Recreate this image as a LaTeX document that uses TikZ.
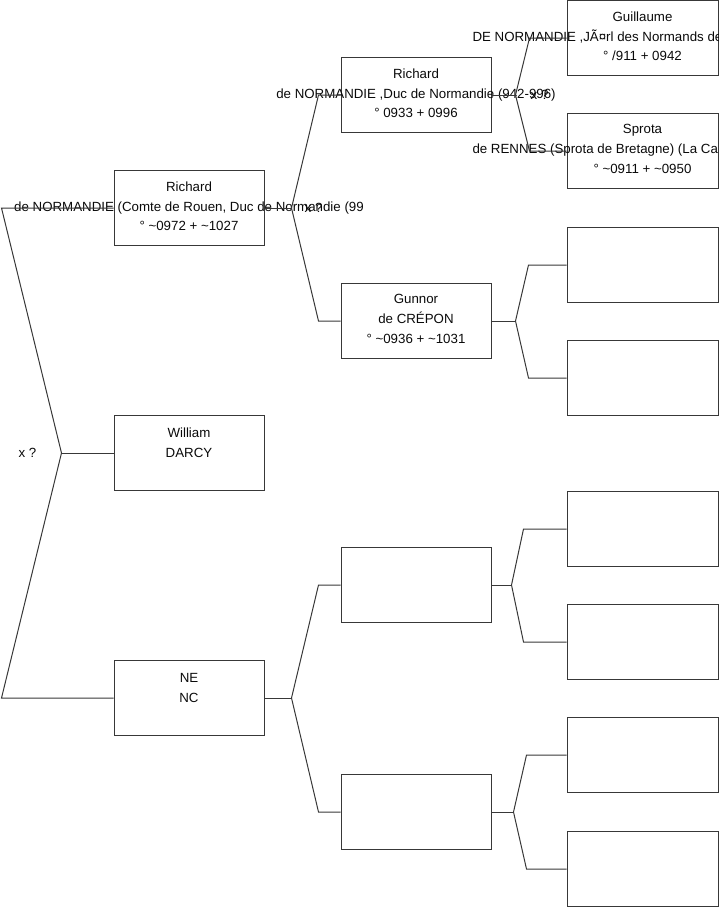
\documentclass[tikz,border=0pt]{standalone}
\usepackage{fontspec}
\setmainfont{Liberation Sans}
\usetikzlibrary{positioning}
\definecolor{frame}{HTML}{383838}
\definecolor{ink}{HTML}{0A0A0A}

\begin{document}
\begin{tikzpicture}[x=1pt,y=-1pt,
  person/.style={draw=frame,line width=1pt,minimum width=150pt,
                 minimum height=75pt,inner sep=0pt},
  elder/.style={person,minimum width=151pt},
  names/.style={font=\fontsize{13.3}{19.8}\selectfont,color=ink,align=center,inner sep=0pt},
  link/.style={draw=frame,line width=1pt},
  union/.style={font=\fontsize{13.3}{15}\selectfont,color=ink,inner sep=0pt}
]
\useasboundingbox (0,0) rectangle (719,908);

% generation 1
\node[person] (richard) at (189,208) {};
\node[person] (william) at (189,453) {};
\node[person] (ne) at (189,698) {};

% generation 2
\node[person] (richardsr) at (416,95) {};
\node[person] (gunnor) at (416,321) {};
\node[person] (nedad) at (416,585) {};
\node[person] (nemum) at (416,812) {};

% generation 3
\node[elder] (guillaume) at (642.5,38) {};
\node[elder] (sprota) at (642.5,151) {};
\node[elder] (gunnordad) at (642.5,265) {};
\node[elder] (gunnormum) at (642.5,378) {};
\node[elder] (nedaddad) at (642.5,529) {};
\node[elder] (nedadmum) at (642.5,642) {};
\node[elder] (nemumdad) at (642.5,755) {};
\node[elder] (nemummum) at (642.5,869) {};

% names
\node[names,below=11.5pt of richard.north] (richard-t)
  {Richard\\de NORMANDIE (Comte de Rouen, Duc de Normandie (99\\° \textasciitilde0972 + \textasciitilde1027};
\node[names,below=13pt of william.north] (william-t) {William\\DARCY};
\node[names,below=13pt of ne.north] (ne-t) {NE\\NC};
\node[names,below=11.5pt of richardsr.north] (richardsr-t)
  {Richard\\de NORMANDIE ,Duc de Normandie (942-996)\\° 0933 + 0996};
\node[names,below=11.5pt of gunnor.north] (gunnor-t)
  {Gunnor\\de CRÉPON\\° \textasciitilde0936 + \textasciitilde1031};
\node[names,below=11.5pt of guillaume.north] (guillaume-t)
  {Guillaume\\\makebox[340pt][l]{DE NORMANDIE ,JÃ¤rl des Normands de}\\° /911 + 0942};
\node[names,below=11.5pt of sprota.north] (sprota-t)
  {Sprota\\\makebox[340pt][l]{de RENNES (Sprota de Bretagne) (La Ca}\\° \textasciitilde0911 + \textasciitilde0950};

% forks
\coordinate (f0) at ([xshift=-52pt]william.west);
\draw[link] (william.west) -- (f0);
\draw[link] (richard.west) -- ([xshift=-112pt]richard.west) -- (f0)
  -- ([xshift=-112pt]ne.west) -- (ne.west);
\node[union,left=25pt of f0] (x0) {x ?};

\coordinate (f1) at ([xshift=27pt]richard.east);
\draw[link] (richard.east) -- (f1);
\draw[link] (richardsr.west) -- ([xshift=-22pt]richardsr.west) -- (f1)
  -- ([xshift=-22pt]gunnor.west) -- (gunnor.west);
\node[union,right=13pt of f1] (x1) {x ?};

\coordinate (f2) at ([xshift=27pt]ne.east);
\draw[link] (ne.east) -- (f2);
\draw[link] (nedad.west) -- ([xshift=-22pt]nedad.west) -- (f2)
  -- ([xshift=-22pt]nemum.west) -- (nemum.west);

\coordinate (f3) at ([xshift=24pt]richardsr.east);
\draw[link] (richardsr.east) -- (f3);
\draw[link] (guillaume.west) -- ([xshift=-37pt]guillaume.west) -- (f3)
  -- ([xshift=-37pt]sprota.west) -- (sprota.west);
\node[union,right=15pt of f3] (x3) {x ?};

\coordinate (f4) at ([xshift=24pt]gunnor.east);
\draw[link] (gunnor.east) -- (f4);
\draw[link] (gunnordad.west) -- ([xshift=-38pt]gunnordad.west) -- (f4)
  -- ([xshift=-38pt]gunnormum.west) -- (gunnormum.west);

\coordinate (f5) at ([xshift=20pt]nedad.east);
\draw[link] (nedad.east) -- (f5);
\draw[link] (nedaddad.west) -- ([xshift=-43pt]nedaddad.west) -- (f5)
  -- ([xshift=-43pt]nedadmum.west) -- (nedadmum.west);

\coordinate (f6) at ([xshift=22pt]nemum.east);
\draw[link] (nemum.east) -- (f6);
\draw[link] (nemumdad.west) -- ([xshift=-40pt]nemumdad.west) -- (f6)
  -- ([xshift=-40pt]nemummum.west) -- (nemummum.west);
\end{tikzpicture}
\end{document}
